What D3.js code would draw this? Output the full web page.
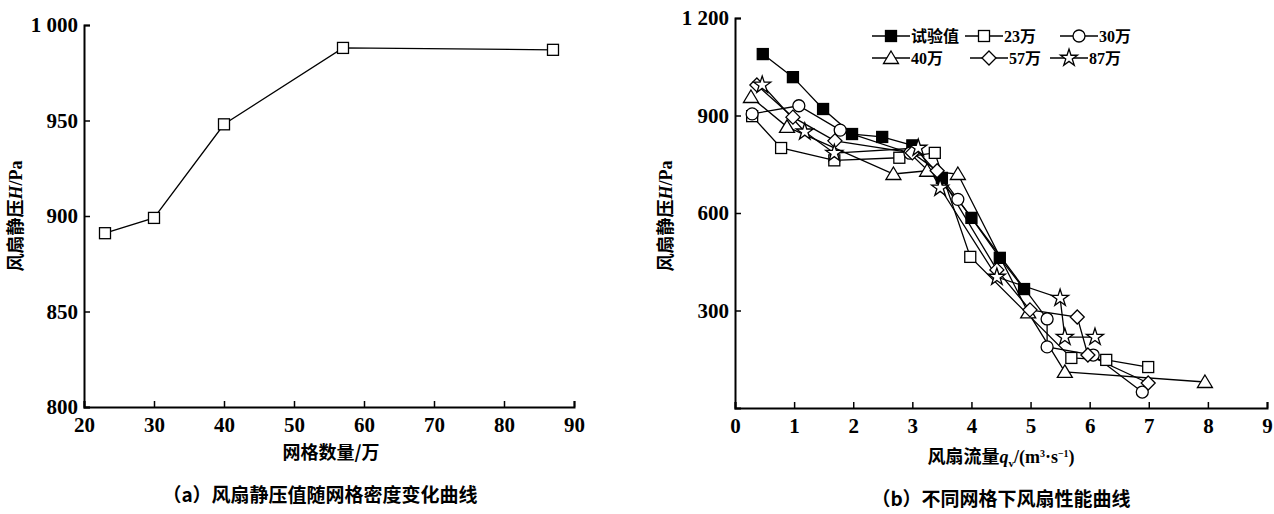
<!DOCTYPE html>
<html><head><meta charset="utf-8">
<script src="https://cdn.jsdelivr.net/npm/d3@7"></script>
<style>
body{margin:0;background:#fff;}
text{font-family:"Liberation Serif","Noto Sans CJK SC",serif;font-weight:bold;fill:#000;}
.cjk{font-family:"Noto Sans CJK SC",sans-serif;}
</style></head>
<body><svg id="c" width="1274" height="514"></svg>
<script>
// chart (a)
var meshCount = [23, 30, 40, 57, 87];
var meshPressure = [891, 899, 948, 988, 987];

// chart (b): [flow, pressure] per series
var seriesNames = ["试验值", "23万", "30万", "40万", "57万", "87万"];
var seriesSymbols = ["fsquare", "square", "circle", "triangle", "diamond", "star"];
var testData = [[0.47,1089],[0.98,1018],[1.49,920],[1.98,843],[2.49,834],[3.0,808],[3.5,708],[4.0,585],[4.48,462],[4.89,366]];
var mesh23 = [[0.29,898],[0.78,800],[1.68,762],[2.78,770],[3.38,785],[3.98,465],[5.69,154],[6.28,148],[6.99,126]];
var mesh30 = [[0.29,905],[1.08,930],[1.78,855],[2.96,784],[3.77,642],[5.28,274],[5.28,188],[6.06,163],[6.89,49]];
var mesh40 = [[0.27,957],[0.88,865],[2.68,720],[3.25,730],[3.77,720],[4.96,294],[5.58,111],[7.95,80]];
var mesh57 = [[0.37,994],[0.98,895],[1.69,822],[3.0,785],[3.42,730],[4.43,425],[4.99,302],[5.79,280],[5.97,163],[6.99,77]];
var mesh87 = [[0.46,994],[1.18,850],[1.68,784],[3.1,800],[3.47,677],[4.43,403],[5.5,338],[5.58,218],[6.09,218]];
var allSeries = [testData, mesh23, mesh30, mesh40, mesh57, mesh87];

var svg = d3.select("#c");

function symbol(g, type, x, y) {
    var s;
    if (type == "fsquare" || type == "square") {
        s = g.append("rect").attr("x", x - 5.5).attr("y", y - 5.5).attr("width", 11).attr("height", 11);
    } else if (type == "circle") {
        s = g.append("circle").attr("cx", x).attr("cy", y).attr("r", 6);
    } else if (type == "triangle") {
        s = g.append("path").attr("d", "M" + x + "," + (y - 7) + "L" + (x + 7.5) + "," + (y + 5.5) + "L" + (x - 7.5) + "," + (y + 5.5) + "Z");
    } else if (type == "diamond") {
        s = g.append("path").attr("d", "M" + x + "," + (y - 7) + "L" + (x + 7) + "," + y + "L" + x + "," + (y + 7) + "L" + (x - 7) + "," + y + "Z");
    } else {
        s = g.append("path").attr("transform", "translate(" + x + "," + y + ")")
            .attr("d", d3.symbol().type(d3.symbolStar).size(90)());
    }
    s.attr("fill", type == "fsquare" ? "#000" : "#fff").attr("stroke", "#000").attr("stroke-width", 1.3);
}

function axes(g, x, y, xt, yt, fmtY) {
    g.append("g").attr("transform", "translate(0," + y.range()[0] + ")")
        .call(d3.axisBottom(x).tickValues(xt).tickSize(-6).tickPadding(10))
        .call(a => a.selectAll("text").style("font-size", "21px").style("font-family", "Liberation Serif"));
    g.append("g").attr("transform", "translate(" + x.range()[0] + ",0)")
        .call(d3.axisLeft(y).tickValues(yt).tickSize(-6).tickPadding(6).tickFormat(fmtY))
        .call(a => a.selectAll("text").style("font-size", "21px").style("font-family", "Liberation Serif"));
    g.selectAll(".domain").attr("stroke-width", 2);
    g.selectAll(".tick line").attr("stroke-width", 1.5);
}
var spaced = function(d) { return d >= 1000 ? String(d).replace(/^(\d)(\d{3})$/, "$1 $2") : d; };

// ---- (a)
var ga = svg.append("g");
var xa = d3.scaleLinear().domain([20, 90]).range([84, 574]);
var ya = d3.scaleLinear().domain([800, 1000]).range([407, 25]);
axes(ga, xa, ya, d3.range(20, 91, 10), [800, 850, 900, 950, 1000], spaced);
ga.append("path").datum(meshCount.map((d, i) => [d, meshPressure[i]]))
    .attr("fill", "none").attr("stroke", "#000").attr("stroke-width", 1.3)
    .attr("d", d3.line().x(d => xa(d[0])).y(d => ya(d[1])));
meshCount.forEach((d, i) => symbol(ga, "square", xa(d), ya(meshPressure[i])));
ga.append("text").attr("class", "cjk").attr("x", 331).attr("y", 459).attr("text-anchor", "middle").style("font-size", "18px").text("网格数量/万");
ga.append("text").attr("transform", "translate(22,216) rotate(-90)").attr("text-anchor", "middle").style("font-size", "18px")
    .html('<tspan class="cjk">风扇静压</tspan><tspan font-style="italic">H</tspan>/Pa');
ga.append("text").attr("class", "cjk").attr("x", 320).attr("y", 502).attr("text-anchor", "middle").style("font-size", "19px").text("（a）风扇静压值随网格密度变化曲线");

// ---- (b)
var gb = svg.append("g");
var xb = d3.scaleLinear().domain([0, 9]).range([735, 1267]);
var yb = d3.scaleLinear().domain([0, 1200]).range([408, 18]);
axes(gb, xb, yb, d3.range(0, 10), [300, 600, 900, 1200], spaced);
var line = d3.line().x(d => xb(d[0])).y(d => yb(d[1]));
allSeries.forEach(function(s, k) {
    gb.append("path").datum(s).attr("fill", "none").attr("stroke", "#000").attr("stroke-width", 1.3).attr("d", line);
});
allSeries.forEach(function(s, k) {
    s.forEach(d => symbol(gb, seriesSymbols[k], xb(d[0]), yb(d[1])));
});
// legend
var legX = [[872, 965, 1060], [872, 970, 1050]];
seriesNames.forEach(function(n, k) {
    var r = Math.floor(k / 3), x0 = legX[r][k % 3], y0 = 36 + r * 22;
    gb.append("line").attr("x1", x0).attr("x2", x0 + 38).attr("y1", y0).attr("y2", y0).attr("stroke", "#000").attr("stroke-width", 1.3);
    symbol(gb, seriesSymbols[k], x0 + 19, y0);
    gb.append("text").attr("class", k == 0 ? "cjk" : null).attr("x", x0 + 39).attr("y", y0 + 6).style("font-size", "16px")
        .html(k == 0 ? n : n.replace(/(\d+)(万)/, '$1<tspan class="cjk">$2</tspan>'));
});
gb.append("text").attr("x", 1001).attr("y", 463).attr("text-anchor", "middle").style("font-size", "18px")
    .html('<tspan class="cjk">风扇流量</tspan><tspan font-style="italic">q</tspan><tspan font-size="11" dy="4">v</tspan><tspan dy="-4">/(m</tspan><tspan font-size="10" dy="-6">3</tspan><tspan dy="6">·s</tspan><tspan font-size="10" dy="-6">−1</tspan><tspan dy="6">)</tspan>');
gb.append("text").attr("transform", "translate(672,216) rotate(-90)").attr("text-anchor", "middle").style("font-size", "18px")
    .html('<tspan class="cjk">风扇静压</tspan><tspan font-style="italic">H</tspan>/Pa');
gb.append("text").attr("class", "cjk").attr("x", 1001).attr("y", 506).attr("text-anchor", "middle").style("font-size", "19px").text("（b）不同网格下风扇性能曲线");
</script></body></html>
